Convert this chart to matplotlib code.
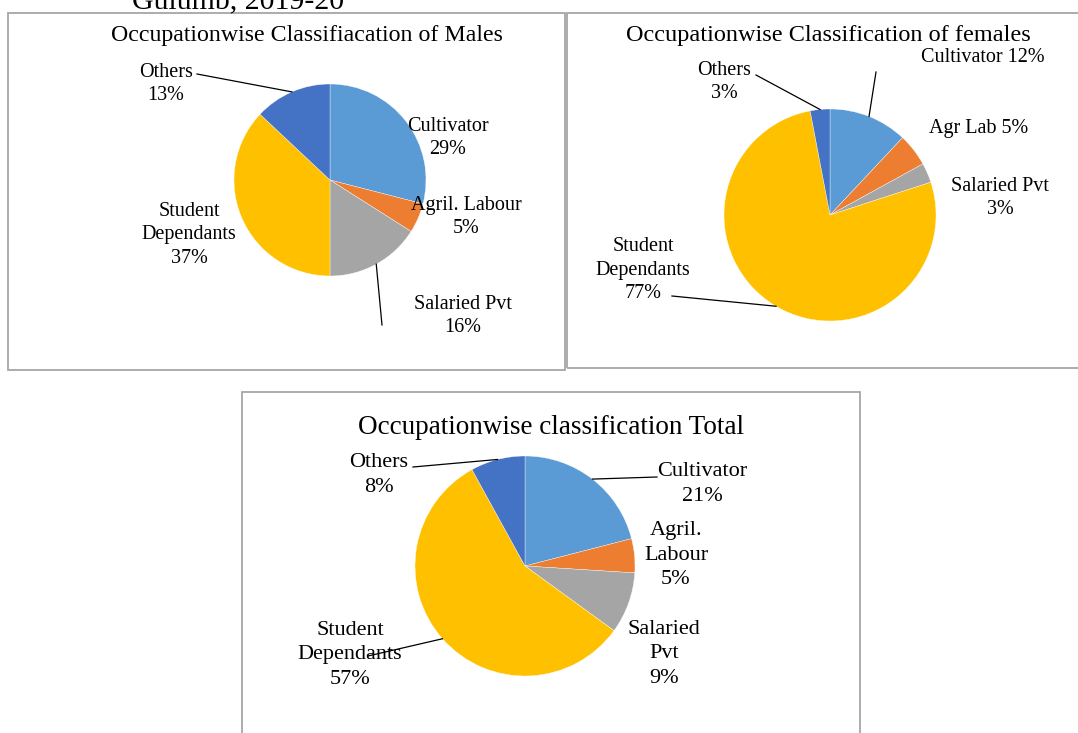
import numpy as np
import matplotlib.pyplot as plt
from matplotlib.patches import Rectangle

plt.rcParams['font.family'] = ['Liberation Serif', 'DejaVu Serif']

# data
male_labels = ['Cultivator', 'Agril. Labour', 'Salaried Pvt', 'Student\nDependants', 'Others']
male_values = [29, 5, 16, 37, 13]

female_labels = ['Cultivator', 'Agr Lab', 'Salaried Pvt', 'Student\nDependants', 'Others']
female_values = [12, 5, 3, 77, 3]

total_labels = ['Cultivator', 'Agril.\nLabour', 'Salaried\nPvt', 'Student\nDependants', 'Others']
total_values = [21, 5, 9, 57, 8]

colors = ['#5B9BD5', '#ED7D31', '#A5A5A5', '#FFC000', '#4472C4']

W, H = 1078, 733
fig = plt.figure(figsize=(W / 100, H / 100), dpi=100)
fig.patch.set_facecolor('white')


def fx(px):
    return px / W


def fy(py):
    return 1 - py / H


def box(x0, y0, x1, y1):
    fig.patches.append(Rectangle((fx(x0), fy(y1)), fx(x1) - fx(x0), fy(y0) - fy(y1),
                                 transform=fig.transFigure, fill=False,
                                 edgecolor='#A6A6A6', linewidth=1.3, zorder=0))


# chart frames
box(8, 13, 565, 370)
box(567, 13, 1085, 368)
box(242, 392, 860, 745)

# partly cut heading above the charts
fig.text(fx(132), fy(8), 'Gulumb, 2019-20', fontsize=21.5, ha='left', va='baseline')


def draw_pie(cx, cy, r, values, labels, title, title_xy, title_size,
             label_pos, sep, lead, fsize, lsp):
    ax = fig.add_axes([fx(cx - r), fy(cy + r), 2 * r / W, 2 * r / H])
    wedges, _ = ax.pie(values, colors=colors, startangle=90, counterclock=False,
                       radius=1, wedgeprops=dict(linewidth=0.25, edgecolor='white'))
    ax.set_xlim(-1, 1)
    ax.set_ylim(-1, 1)
    ax.axis('off')
    for i, (lab, val) in enumerate(zip(labels, values)):
        lx, ly = label_pos[i]
        ax.text((lx - cx) / r, (cy - ly) / r, f'{lab}{sep[i]}{val}%', ha='center', va='center',
                fontsize=fsize, linespacing=lsp, clip_on=False)
        if i in lead:
            w = wedges[i]
            mid = np.deg2rad((w.theta1 + w.theta2) / 2)
            ex, ey = lead[i]
            ax.plot([np.cos(mid), (ex - cx) / r], [np.sin(mid), (cy - ey) / r],
                    color='black', linewidth=0.9, clip_on=False)
    fig.text(fx(title_xy[0]), fy(title_xy[1]), title, ha='center', va='center',
             fontsize=title_size)


draw_pie(330, 180, 96, male_values, male_labels,
         'Occupationwise Classifiacation of Males', (307, 35), 17.2,
         [(448, 138), (466, 217), (463, 316), (189, 235), (166, 84)],
         ['\n', '\n', '\n', '\n', '\n'],
         {2: (382, 325), 4: (197, 74)}, 14.5, 1.32)

draw_pie(830, 215, 106, female_values, female_labels,
         'Occupationwise Classification of females', (828, 35), 17.5,
         [(983, 57), (979, 129), (1000, 198), (643, 270), (724, 82)],
         [' ', ' ', '\n', '\n', '\n'],
         {0: (876, 72), 3: (672, 296), 4: (756, 75)}, 14.5, 1.32)

draw_pie(525, 566, 110, total_values, total_labels,
         'Occupationwise classification Total', (551, 428), 19.5,
         [(702, 484), (676, 555), (664, 654), (350, 655), (379, 475)],
         ['\n', '\n', '\n', '\n', '\n'],
         {0: (657, 477), 3: (368, 656), 4: (413, 467)}, 16, 1.4)

fig.savefig('out.png', dpi=100)
